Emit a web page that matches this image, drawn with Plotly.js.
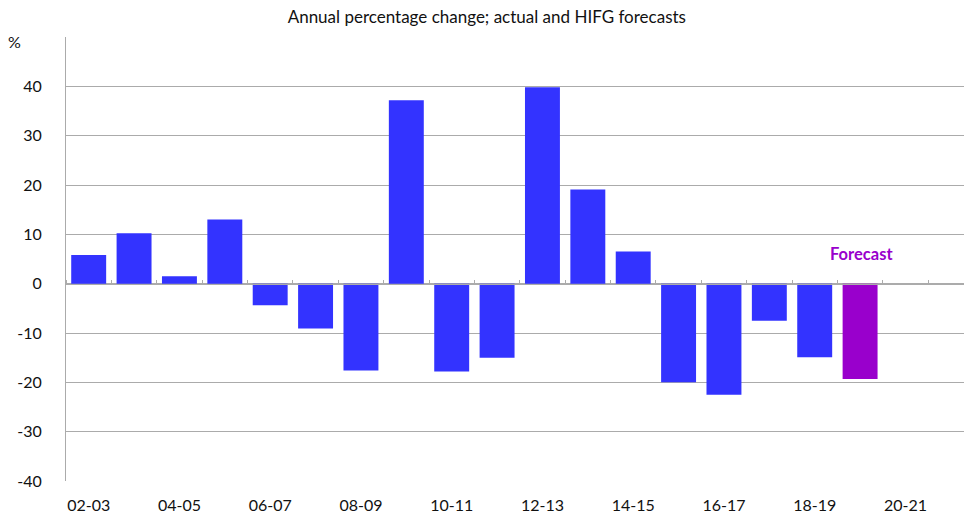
<!DOCTYPE html>
<html>
<head>
<meta charset="utf-8">
<script src="https://cdn.plot.ly/plotly-3.0.1.min.js"></script>
<style>html,body{margin:0;padding:0;background:#fff;}#chart{width:964px;height:515px;}</style>
</head>
<body>
<div id="chart"></div>
<script>
// Data
const categories = ["02-03","03-04","04-05","05-06","06-07","07-08","08-09","09-10","10-11","11-12","12-13","13-14","14-15","15-16","16-17","17-18","18-19","19-20","20-21"];
const actualValues = [5.8, 10.2, 1.5, 13.0, -4.4, -9.1, -17.6, 37.2, -17.8, -15.0, 39.8, 19.1, 6.5, -20.0, -22.5, -7.5, -14.9, null, null];
const forecastValues = [null, null, null, null, null, null, null, null, null, null, null, null, null, null, null, null, null, -19.3, null];
const yTickVals = [-40, -30, -20, -10, 0, 10, 20, 30, 40, 50];
const yTickText = ["-40", "-30", "-20", "-10", "0", "10", "20", "30", "40", ""];
const xLabelCats = categories.filter((c, i) => i % 2 === 0);
const titleText = "Annual percentage change; actual and HIFG forecasts";
const forecastLabel = "Forecast";
const unitLabel = "%";

const FONT = "Lato, 'Open Sans', sans-serif";
const GRID = "#ababab";
const yMin = -40, yMax = 50;

const traces = [
  {type: "bar", x: categories, y: actualValues, marker: {color: "#3333ff"}, xaxis: "x", yaxis: "y", hoverinfo: "x+y"},
  {type: "bar", x: categories, y: forecastValues, marker: {color: "#9900cc"}, xaxis: "x", yaxis: "y", hoverinfo: "x+y"},
  {type: "scatter", mode: "markers", x: categories, y: categories.map(() => null), xaxis: "x2", yaxis: "y", marker: {opacity: 0}, hoverinfo: "skip"}
];

const xRange = [-0.5, 19.29];

const layout = {
  width: 964, height: 515,
  margin: {l: 66, r: 0, t: 37, b: 34},
  paper_bgcolor: "#fff", plot_bgcolor: "#fff",
  showlegend: false,
  barmode: "overlay",
  bargap: 0.23,
  font: {family: FONT, size: 16, color: "#111"},
  title: {text: titleText, font: {family: FONT, size: 17, color: "#111"}, x: 0.505, xanchor: "center", y: 0.967, yanchor: "middle"},
  xaxis: {
    type: "category", categoryorder: "array", categoryarray: categories,
    range: xRange, tickvals: xLabelCats, ticktext: xLabelCats,
    showgrid: false, zeroline: false, showline: false,
    ticks: "outside", ticklen: 10, tickcolor: "rgba(0,0,0,0)",
    tickfont: {family: FONT, size: 16, color: "#111"}
  },
  xaxis2: {
    type: "category", categoryorder: "array", categoryarray: categories,
    range: xRange, overlaying: "x", anchor: "free", side: "top",
    position: (0 - yMin) / (yMax - yMin),
    showline: true, linecolor: GRID, linewidth: 1,
    ticks: "outside", tickson: "boundaries", ticklen: 4, tickcolor: GRID, tickwidth: 1,
    showticklabels: false, showgrid: false, zeroline: false
  },
  yaxis: {
    range: [yMin, yMax], tickvals: yTickVals, ticktext: yTickText,
    showgrid: true, gridcolor: GRID, gridwidth: 1,
    zeroline: false, showline: true, linecolor: GRID, linewidth: 1,
    ticks: "outside", ticklen: 20, tickcolor: "rgba(0,0,0,0)",
    tickfont: {family: FONT, size: 16, color: "#111"}
  },
  annotations: [
    {text: "<b>" + forecastLabel + "</b>", x: 17.04, y: 6, xref: "x", yref: "y", showarrow: false, font: {family: FONT, size: 16.5, color: "#9900cc"}},
    {text: unitLabel, x: -0.057, xref: "paper", y: 0.99, yref: "paper", xanchor: "center", yanchor: "middle", showarrow: false, font: {family: FONT, size: 16, color: "#111"}}
  ]
};

Plotly.newPlot("chart", traces, layout, {staticPlot: true, displayModeBar: false});
</script>
</body>
</html>
